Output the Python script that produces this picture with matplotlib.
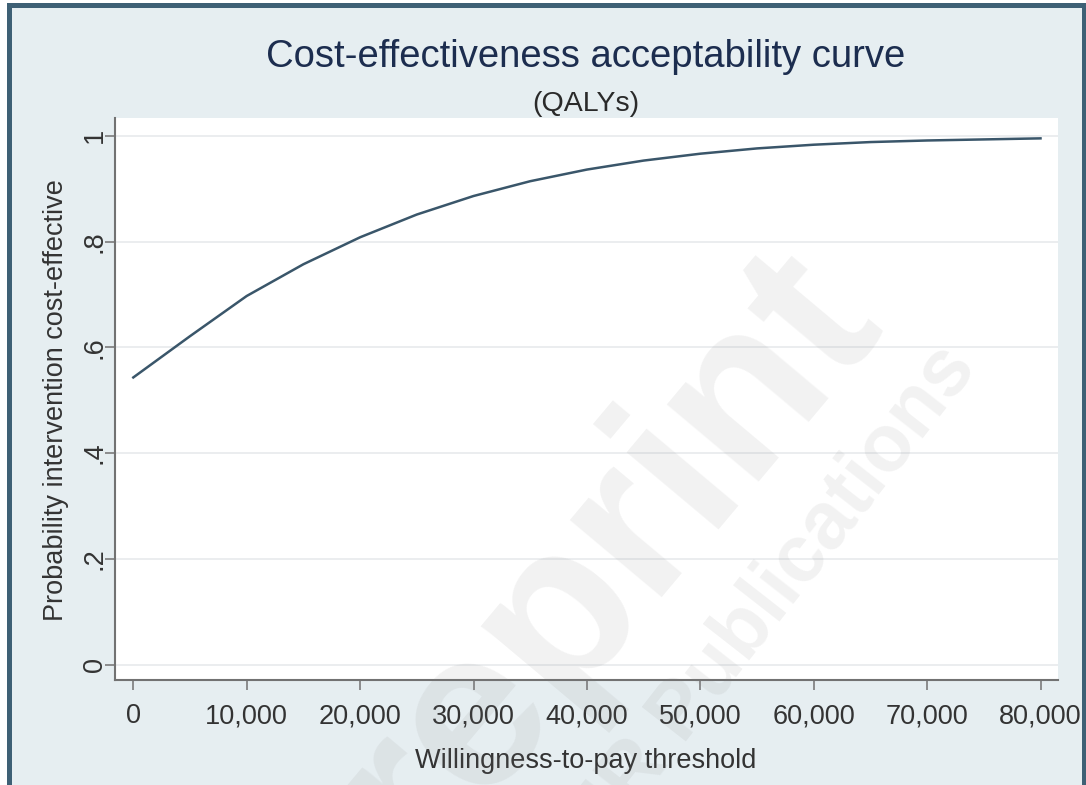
import matplotlib.pyplot as plt
from matplotlib.patches import Rectangle

# acceptability curve: threshold (per QALY) vs probability cost-effective
wtp = [0, 5000, 10000, 15000, 20000, 25000, 30000, 35000, 40000,
       45000, 50000, 55000, 60000, 65000, 70000, 75000, 80000]
prob = [0.543, 0.621, 0.697, 0.757, 0.808, 0.851, 0.886, 0.914, 0.936,
        0.953, 0.966, 0.976, 0.983, 0.988, 0.991, 0.993, 0.995]

xticks = [0, 10000, 20000, 30000, 40000, 50000, 60000, 70000, 80000]
xtick_labels = ['0', '10,000', '20,000', '30,000', '40,000',
                '50,000', '60,000', '70,000', '80,000']
yticks = [0, 0.2, 0.4, 0.6, 0.8, 1.0]
ytick_labels = ['0', '.2', '.4', '.6', '.8', '1']

plt.rcParams['font.family'] = ['Liberation Sans', 'DejaVu Sans']

W, H = 1086, 785
fig = plt.figure(figsize=(W / 100, H / 100), dpi=100, facecolor='white')


def fx(px):
    return px / W


def fy(py):
    return 1 - py / H


# graph region with its dark frame (bottom edge pushed off the canvas)
fig.patches.append(Rectangle((fx(9.2), fy(820)), fx(1083.5) - fx(9.2), fy(5) - fy(820),
                             transform=fig.transFigure, facecolor='#e6eef1',
                             edgecolor='#3e6075', lw=3.6, zorder=-5))

ax = fig.add_axes([fx(115), fy(680), fx(1058) - fx(115), fy(118) - fy(680)])
ax.set_zorder(1)
ax.set_facecolor('white')
ax.set_xlim(-1614, 81543)
ax.set_ylim(-0.029, 1.0335)

ax.plot(wtp, prob, color='#3a566a', lw=1.8, zorder=3)

ax.set_yticks(yticks)
ax.set_yticklabels(ytick_labels, rotation=90, va='center')
ax.set_xticks(xticks)
ax.set_xticklabels(xtick_labels)
ax.yaxis.grid(True, color='#e9ecee', lw=1.3)
ax.set_axisbelow(True)

for side in ['top', 'right']:
    ax.spines[side].set_visible(False)
for side in ['left', 'bottom']:
    ax.spines[side].set_color('#727272')
    ax.spines[side].set_linewidth(1.5)

ax.tick_params(direction='out', length=7.2, width=1.1, color='#727272',
               labelsize=19.5, labelcolor='#333333')
ax.tick_params(axis='x', pad=9.7)
ax.tick_params(axis='y', pad=-2)

fig.text(fx(586), fy(57), 'Cost-effectiveness acceptability curve',
         fontsize=27.5, color='#1c2d4f', ha='center', va='center')
fig.text(fx(586), fy(104), '(QALYs)', fontsize=20.5, color='#2a2a2a',
         ha='center', va='center')
fig.text(fx(586), fy(761), 'Willingness-to-pay threshold', fontsize=19.5,
         color='#333333', ha='center', va='center')
fig.text(fx(56), fy(400), 'Probability intervention cost-effective', fontsize=19.5,
         color='#333333', ha='center', va='center', rotation=90)

# watermark
fig.text(fx(562), fy(608), 'preprint', fontsize=163, fontweight='bold',
         color='#808080', alpha=0.1, rotation=50, rotation_mode='anchor',
         ha='center', va='center', zorder=10)
fig.text(fx(748), fy(628), 'JMIR Publications', fontsize=58, fontweight='bold',
         color='#808080', alpha=0.1, rotation=52, rotation_mode='anchor',
         ha='center', va='center', zorder=10)

fig.savefig('out.png', dpi=100, facecolor='white')
